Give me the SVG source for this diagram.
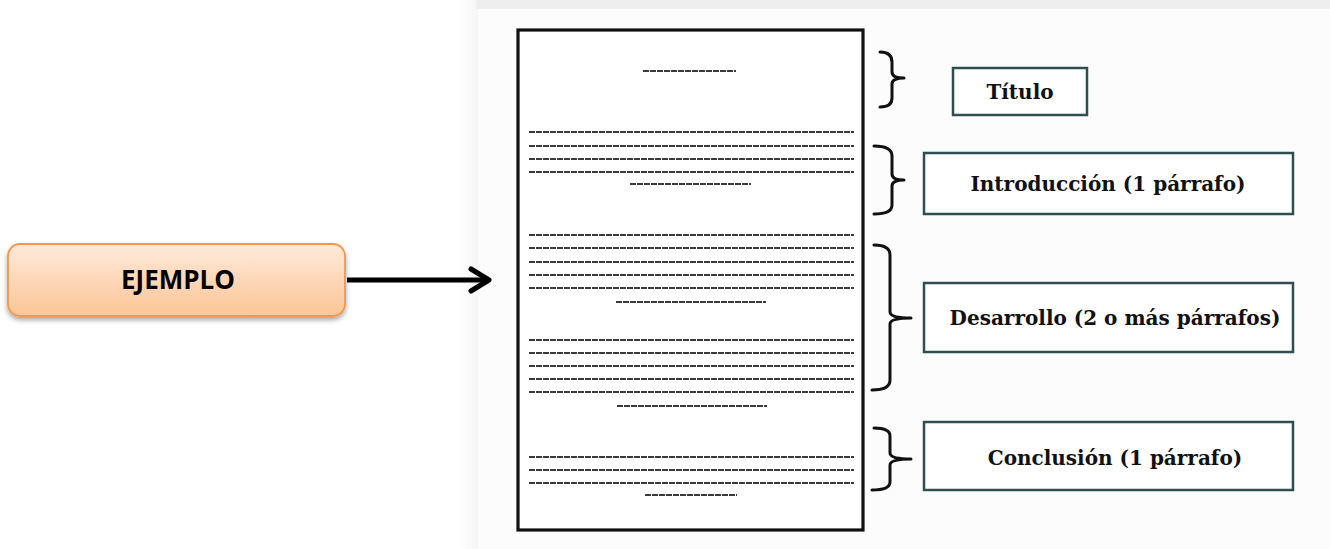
<svg xmlns="http://www.w3.org/2000/svg" width="1330" height="549" viewBox="0 0 1330 549">
<defs>
<linearGradient id="og" x1="0" y1="0" x2="0" y2="1">
<stop offset="0" stop-color="#ffeadb"/>
<stop offset="1" stop-color="#fcc595"/>
</linearGradient>
<linearGradient id="lg" x1="0" y1="0" x2="1" y2="0">
<stop offset="0" stop-color="#ffffff"/>
<stop offset="1" stop-color="#efefef"/>
</linearGradient>
<filter id="sh" x="-10%" y="-20%" width="120%" height="150%">
<feDropShadow dx="0" dy="3" stdDeviation="2.5" flood-color="#000" flood-opacity="0.35"/>
</filter>
</defs>
<style>
.txt{font-family:"DejaVu Serif","Liberation Serif",serif;font-weight:bold;font-size:20px;fill:#111;text-anchor:middle;dominant-baseline:central}
.box{fill:#ffffff;stroke:#2f4f4f;stroke-width:2.5}
.ln{stroke:#3a3a3a;stroke-width:1.8;stroke-dasharray:6 1}
.br{fill:none;stroke:#111;stroke-width:3;stroke-linecap:round;stroke-linejoin:round}
</style>
<rect width="1330" height="549" fill="#ffffff"/>
<rect x="458" y="0" width="20" height="549" fill="url(#lg)" opacity="0.6"/>
<rect x="476" y="0" width="854" height="9" fill="#eeeeee"/>
<rect x="478" y="9" width="852" height="540" fill="#fcfcfc"/>

<g id="ejemplo">
<rect x="8" y="244" width="337" height="72" rx="12" fill="url(#og)" stroke="#f79646" stroke-width="1.8" filter="url(#sh)"/>
<text x="178" y="279" font-family="'Open Sans','Liberation Sans',sans-serif" font-weight="bold" font-size="26" fill="#000" text-anchor="middle" dominant-baseline="central">EJEMPLO</text>
</g>

<g id="connectors">
<line x1="347" y1="280" x2="487" y2="280" stroke="#000" stroke-width="5"/>
<path d="M471,269 L489,280 L471,291" fill="none" stroke="#000" stroke-width="5" stroke-linecap="round" stroke-linejoin="round"/>
<path class="br" d="M880,52 Q892,52 892,62 L892,72 Q892,78 904,78 Q892,78 892,84 L892,98 Q892,107 880,107"/>
<path class="br" d="M874,146 Q892,146 892,156 L892,174 Q892,180 904,180 Q892,180 892,186 L892,205 Q892,214 874,214"/>
<path class="br" d="M874,245 Q890,245 890,255 L890,312 Q890,318 911,318 Q890,318 890,324 L890,380 Q890,390 872,390"/>
<path class="br" d="M874,428 Q890,428 890,436 L890,453 Q890,459 911,459 Q890,459 890,465 L890,482 Q890,490 872,490"/>
</g>

<g id="page">
<rect x="518" y="30" width="345" height="500" fill="#ffffff" stroke="#111" stroke-width="3.2"/>
<line class="ln" x1="643" y1="71" x2="736" y2="71"/>
<line class="ln" x1="529" y1="132" x2="854" y2="132"/>
<line class="ln" x1="529" y1="146" x2="854" y2="146"/>
<line class="ln" x1="529" y1="159" x2="854" y2="159"/>
<line class="ln" x1="529" y1="172" x2="854" y2="172"/>
<line class="ln" x1="630" y1="184" x2="751" y2="184"/>
<line class="ln" x1="529" y1="235" x2="854" y2="235"/>
<line class="ln" x1="529" y1="248" x2="854" y2="248"/>
<line class="ln" x1="529" y1="262" x2="854" y2="262"/>
<line class="ln" x1="529" y1="275" x2="854" y2="275"/>
<line class="ln" x1="529" y1="288" x2="854" y2="288"/>
<line class="ln" x1="616" y1="302" x2="766" y2="302"/>
<line class="ln" x1="529" y1="340" x2="854" y2="340"/>
<line class="ln" x1="529" y1="353" x2="854" y2="353"/>
<line class="ln" x1="529" y1="366" x2="854" y2="366"/>
<line class="ln" x1="529" y1="379" x2="854" y2="379"/>
<line class="ln" x1="529" y1="392" x2="854" y2="392"/>
<line class="ln" x1="617" y1="406" x2="767" y2="406"/>
<line class="ln" x1="529" y1="457" x2="854" y2="457"/>
<line class="ln" x1="529" y1="470" x2="854" y2="470"/>
<line class="ln" x1="529" y1="483" x2="854" y2="483"/>
<line class="ln" x1="645" y1="495" x2="737" y2="495"/>
</g>

<g id="titulo">
<rect class="box" x="953" y="68" width="134" height="47"/>
<text class="txt" x="1020" y="92">Título</text>
</g>
<g id="introduccion">
<rect class="box" x="924" y="153" width="369" height="61"/>
<text class="txt" x="1108" y="184">Introducción (1 párrafo)</text>
</g>
<g id="desarrollo">
<rect class="box" x="924" y="283" width="369" height="69"/>
<text class="txt" x="1115" y="318">Desarrollo (2 o más párrafos)</text>
</g>
<g id="conclusion">
<rect class="box" x="924" y="422" width="369" height="68"/>
<text class="txt" x="1115" y="458">Conclusión (1 párrafo)</text>
</g>
</svg>
